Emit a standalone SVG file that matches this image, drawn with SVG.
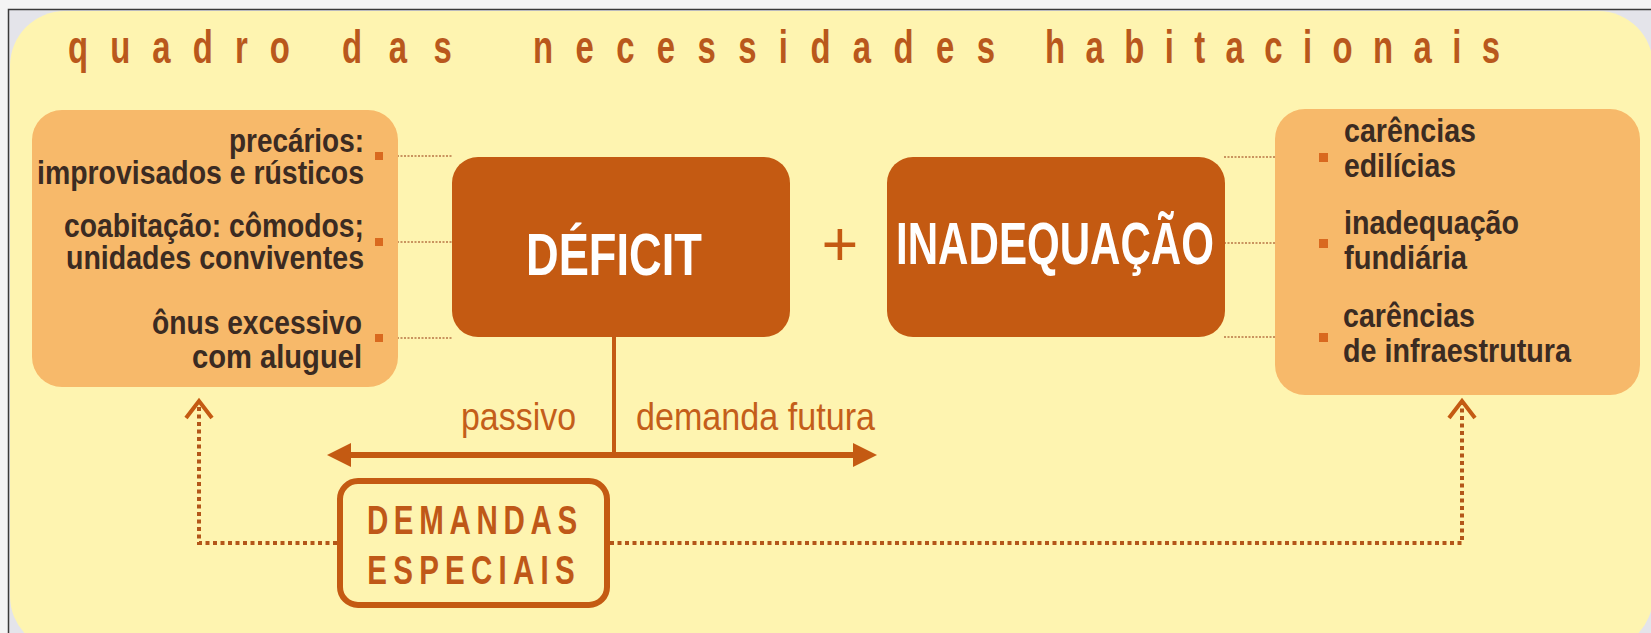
<svg xmlns="http://www.w3.org/2000/svg" width="1651" height="633" viewBox="0 0 1651 633">
<defs>
<style>
.t{font-family:'Liberation Sans',Arial,sans-serif}
.title{font-size:47px;font-weight:bold;fill:#b9581c}
.body{font-size:34px;font-weight:bold;fill:#3b2b22}
.big{font-size:60px;font-weight:bold;fill:#ffffff;text-anchor:middle}
.lab{font-size:38px;fill:#c45e1a}
.dem{font-size:41px;font-weight:bold;fill:#bf5818;text-anchor:middle}
.lbox{fill:#f7b96a}
.dbox{fill:#c45a12}
.sq{fill:#d9691f}
.thin{stroke:#b87444;stroke-width:1.5;stroke-dasharray:2 1.5;fill:none}
.dot{stroke:#b35619;stroke-width:4;stroke-dasharray:4 3.5;fill:none}
.solid{stroke:#c45a12;fill:none}
</style>
<marker id="tri" viewBox="0 0 24 24" refX="14" refY="12" markerWidth="24" markerHeight="24" markerUnits="userSpaceOnUse" orient="auto-start-reverse">
<path d="M0,0 L24,12 L0,24 z" fill="#c45a12"/>
</marker>
<marker id="chev" viewBox="-20 -16 24 32" refX="0" refY="0" markerWidth="24" markerHeight="32" markerUnits="userSpaceOnUse" orient="auto">
<path d="M-17,-13 L0,0 L-17,13" fill="none" stroke="#c45a12" stroke-width="4"/>
</marker>
</defs>

<rect width="1651" height="633" fill="#f4f4f4"/>
<rect x="8" y="9" width="1643" height="624" fill="#e4e4ea"/>
<rect x="10" y="11" width="1643" height="640" rx="55" ry="55" fill="#fef4b0"/>
<path d="M8.5,633 V9.5 H1651" stroke="#3a3a3a" stroke-width="1.5" fill="none"/>

<g id="title" class="t title">
<text transform="translate(68,63) scale(0.7,1)" x="0" y="0" textLength="317" lengthAdjust="spacing">quadro</text>
<text transform="translate(342,63) scale(0.7,1)" x="0" y="0" textLength="157" lengthAdjust="spacing">das</text>
<text transform="translate(533,63) scale(0.7,1)" x="0" y="0" textLength="660" lengthAdjust="spacing">necessidades</text>
<text transform="translate(1045,63) scale(0.7,1)" x="0" y="0" textLength="650" lengthAdjust="spacing">habitacionais</text>
</g>

<g id="connectors">
<line class="thin" x1="383" y1="156" x2="452" y2="156"/>
<line class="thin" x1="383" y1="242" x2="452" y2="242"/>
<line class="thin" x1="383" y1="338" x2="452" y2="338"/>
<line class="thin" x1="1224" y1="157" x2="1319" y2="157"/>
<line class="thin" x1="1224" y1="243" x2="1319" y2="243"/>
<line class="thin" x1="1224" y1="337" x2="1319" y2="337"/>
<line class="solid" stroke-width="4" x1="614" y1="335" x2="614" y2="455"/>
<line class="solid" stroke-width="6" x1="337" y1="455" x2="867" y2="455" marker-start="url(#tri)" marker-end="url(#tri)"/>
<path class="dot" d="M337,543 H199 V401" marker-end="url(#chev)"/>
<path class="dot" d="M610,543 H1462 V401" marker-end="url(#chev)"/>
</g>

<g id="left-box">
<rect class="lbox" x="32" y="110" width="366" height="277" rx="30"/>
<rect class="sq" x="375" y="152" width="8" height="8"/>
<rect class="sq" x="375" y="238" width="8" height="8"/>
<rect class="sq" x="375" y="334" width="8" height="8"/>
<g class="t body" text-anchor="end">
<text x="364" y="152" textLength="135" lengthAdjust="spacingAndGlyphs">precários:</text>
<text x="364" y="184" textLength="327" lengthAdjust="spacingAndGlyphs">improvisados e rústicos</text>
<text x="364" y="237" textLength="300" lengthAdjust="spacingAndGlyphs">coabitação: cômodos;</text>
<text x="364" y="269" textLength="298" lengthAdjust="spacingAndGlyphs">unidades conviventes</text>
<text x="362" y="334" textLength="210" lengthAdjust="spacingAndGlyphs">ônus excessivo</text>
<text x="362" y="368" textLength="170" lengthAdjust="spacingAndGlyphs">com aluguel</text>
</g>
</g>

<g id="deficit">
<rect class="dbox" x="452" y="157" width="338" height="180" rx="26"/>
<text class="t big" x="614" y="275" textLength="176" lengthAdjust="spacingAndGlyphs">DÉFICIT</text>
</g>

<g id="plus">
<text x="840" y="266" font-family="'Liberation Sans',Arial,sans-serif" font-size="63" fill="#c45a12" text-anchor="middle">+</text>
</g>

<g id="inadequacao">
<rect class="dbox" x="887" y="157" width="338" height="180" rx="26"/>
<text class="t big" x="1055" y="264" textLength="318" lengthAdjust="spacingAndGlyphs">INADEQUAÇÃO</text>
</g>

<g id="right-box">
<rect class="lbox" x="1275" y="109" width="365" height="286" rx="30"/>
<rect class="sq" x="1319" y="153" width="9" height="9"/>
<rect class="sq" x="1319" y="239" width="9" height="9"/>
<rect class="sq" x="1319" y="333" width="9" height="9"/>
<g class="t body">
<text x="1344" y="142" textLength="132" lengthAdjust="spacingAndGlyphs">carências</text>
<text x="1344" y="177" textLength="112" lengthAdjust="spacingAndGlyphs">edilícias</text>
<text x="1344" y="234" textLength="175" lengthAdjust="spacingAndGlyphs">inadequação</text>
<text x="1344" y="269" textLength="123" lengthAdjust="spacingAndGlyphs">fundiária</text>
<text x="1343" y="327" textLength="132" lengthAdjust="spacingAndGlyphs">carências</text>
<text x="1343" y="362" textLength="228" lengthAdjust="spacingAndGlyphs">de infraestrutura</text>
</g>
</g>

<g id="labels" class="t lab">
<text x="461" y="430" textLength="115" lengthAdjust="spacingAndGlyphs">passivo</text>
<text x="636" y="430" textLength="239" lengthAdjust="spacingAndGlyphs">demanda futura</text>
</g>

<g id="demandas-especiais">
<rect x="340" y="481" width="267" height="124" rx="18" fill="#fef4b0" stroke="#c45a12" stroke-width="6"/>
<text class="t dem" transform="translate(472,534) scale(0.72,1)" x="0" y="0" textLength="292" lengthAdjust="spacing">DEMANDAS</text>
<text class="t dem" transform="translate(471,584) scale(0.72,1)" x="0" y="0" textLength="288" lengthAdjust="spacing">ESPECIAIS</text>
</g>
</svg>
